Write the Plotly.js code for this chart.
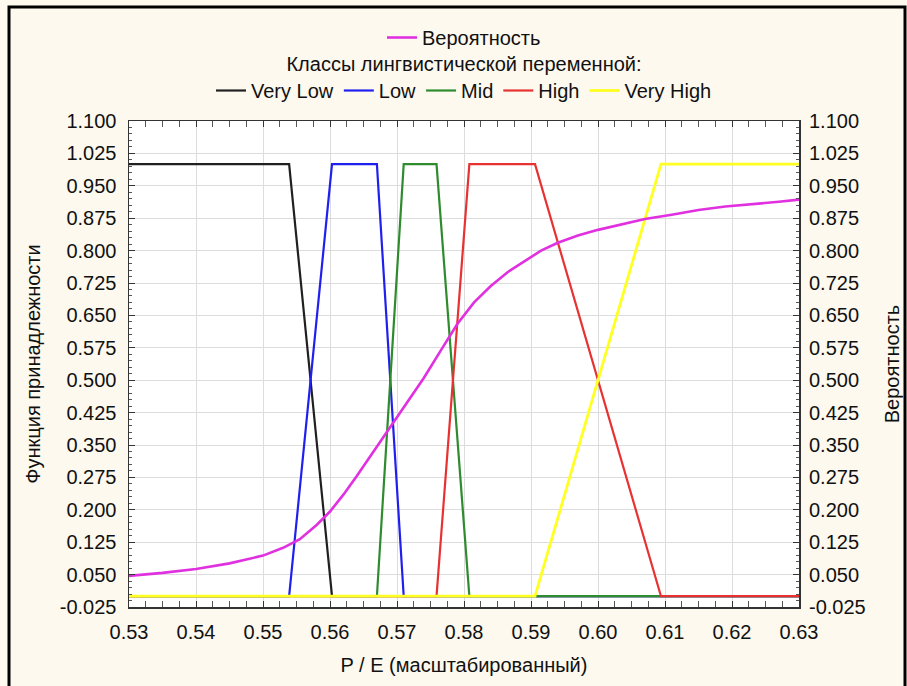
<!DOCTYPE html>
<html>
<head>
<meta charset="utf-8">
<script src="https://cdn.plot.ly/plotly-3.0.1.min.js"></script>
<style>
  html, body { margin: 0; padding: 0; background: #fdf9ef; }
  #chart { width: 907px; height: 686px; }
</style>
</head>
<body>
<div id="chart"></div>
<script>
// Membership functions (trapezoids) of the linguistic variable classes
const xVeryLow = [0.53, 0.5539, 0.5603, 0.63];
const yVeryLow = [1, 1, 0, 0];
const xLow = [0.53, 0.5539, 0.5603, 0.5670, 0.5710, 0.63];
const yLow = [0, 0, 1, 1, 0, 0];
const xMid = [0.53, 0.5670, 0.5710, 0.5759, 0.5808, 0.63];
const yMid = [0, 0, 1, 1, 0, 0];
const xHigh = [0.53, 0.5759, 0.5808, 0.5906, 0.6094, 0.63];
const yHigh = [0, 0, 1, 1, 0, 0];
const xVeryHigh = [0.53, 0.5906, 0.6094, 0.63];
const yVeryHigh = [0, 0, 1, 1];

// Probability curve
const xProb = [0.530, 0.535, 0.540, 0.545, 0.550, 0.553, 0.5555, 0.558, 0.560, 0.562,
               0.564, 0.566, 0.568, 0.570, 0.572, 0.574, 0.5765, 0.579, 0.5815, 0.584,
               0.5865, 0.589, 0.5915, 0.594, 0.597, 0.600, 0.604, 0.607, 0.611, 0.615,
               0.619, 0.623, 0.627, 0.630];
const yProb = [0.047, 0.054, 0.063, 0.076, 0.094, 0.112, 0.132, 0.165, 0.196, 0.235,
               0.278, 0.323, 0.368, 0.413, 0.458, 0.505, 0.568, 0.630, 0.680, 0.718,
               0.750, 0.776, 0.800, 0.818, 0.835, 0.848, 0.862, 0.873, 0.883, 0.894,
               0.902, 0.907, 0.913, 0.918];

const xTickVals = [0.53, 0.54, 0.55, 0.56, 0.57, 0.58, 0.59, 0.60, 0.61, 0.62, 0.63];
const xTickText = ['0.53', '0.54', '0.55', '0.56', '0.57', '0.58', '0.59', '0.60', '0.61', '0.62', '0.63'];
const yTickVals = [-0.025, 0.050, 0.125, 0.200, 0.275, 0.350, 0.425, 0.500, 0.575,
                   0.650, 0.725, 0.800, 0.875, 0.950, 1.025, 1.100];
const yTickText = ['-0.025', '0.050', '0.125', '0.200', '0.275', '0.350', '0.425', '0.500', '0.575',
                   '0.650', '0.725', '0.800', '0.875', '0.950', '1.025', '1.100'];

const FONT = 'Liberation Sans, Arial, sans-serif';
const lw = 2.2;

const traces = [
  {x: xVeryLow, y: yVeryLow, name: 'Very Low', mode: 'lines', line: {color: '#202020', width: lw}, legend: 'legend2'},
  {x: xLow, y: yLow, name: 'Low', mode: 'lines', line: {color: '#2020ee', width: lw}, legend: 'legend2'},
  {x: xMid, y: yMid, name: 'Mid', mode: 'lines', line: {color: '#2e8b2e', width: lw}, legend: 'legend2'},
  {x: xHigh, y: yHigh, name: 'High', mode: 'lines', line: {color: '#e83232', width: lw}, legend: 'legend2'},
  {x: xVeryHigh, y: yVeryHigh, name: 'Very High', mode: 'lines', line: {color: '#ffff22', width: lw + 0.6}, legend: 'legend2'},
  {x: xProb, y: yProb, name: 'Вероятность', mode: 'lines', line: {color: '#e030e0', width: 2.6}, yaxis: 'y2', legend: 'legend'}
];

// plot area in pixels: left 129, right 799, top 121, bottom 607
const L = 129, R = 799, T = 121, B = 607;
const W = R - L, H = B - T;
const px = v => (v - L) / W;
const py = v => (B - v) / H;

const layout = {
  width: 907, height: 686,
  margin: {l: L, r: 907 - R, t: T, b: 686 - B},
  paper_bgcolor: '#fdf9ef',
  plot_bgcolor: '#ffffff',
  font: {family: FONT, size: 20, color: '#111'},
  showlegend: true,
  xaxis: {
    range: [0.53, 0.63],
    tickvals: xTickVals, ticktext: xTickText,
    ticks: 'inside', ticklen: 6, tickcolor: '#333',
    ticklabelstandoff: 6,
    showline: true, linecolor: '#333', linewidth: 1.5, mirror: 'allticks',
    showgrid: true, gridcolor: '#dcdcdc', gridwidth: 1,
    zeroline: false,
    minor: {dtick: 0.0025, tick0: 0.53, ticks: 'inside', ticklen: 3, tickcolor: '#555', showgrid: false},
    tickfont: {size: 20},
    title: {text: 'P / E (масштабированный)', font: {size: 20}, standoff: 16},
    automargin: false
  },
  yaxis: {
    range: [-0.025, 1.1],
    tickvals: yTickVals, ticktext: yTickText,
    ticks: 'inside', ticklen: 6, tickcolor: '#333',
    ticklabelstandoff: 7,
    showline: true, linecolor: '#333', linewidth: 1.5, mirror: true,
    showgrid: true, gridcolor: '#dcdcdc', gridwidth: 1,
    zeroline: false,
    minor: {dtick: 0.015, tick0: -0.025, ticks: 'inside', ticklen: 3, tickcolor: '#555', showgrid: false},
    tickfont: {size: 20},
    title: {text: 'Функция принадлежности', font: {size: 20}, standoff: 14},
    automargin: false
  },
  yaxis2: {
    overlaying: 'y', side: 'right',
    range: [-0.025, 1.1],
    tickvals: yTickVals, ticktext: yTickText,
    ticks: 'inside', ticklen: 6, tickcolor: '#333',
    ticklabelstandoff: 9,
    showgrid: false, zeroline: false,
    minor: {dtick: 0.015, tick0: -0.025, ticks: 'inside', ticklen: 3, tickcolor: '#555', showgrid: false},
    tickfont: {size: 20},
    title: {text: 'Вероятность', font: {size: 20}, standoff: 20},
    automargin: false
  },
  legend: {
    orientation: 'h', x: 0.5, xanchor: 'center', y: py(18), yanchor: 'top',
    bgcolor: 'rgba(0,0,0,0)', font: {size: 20}
  },
  legend2: {
    orientation: 'h', x: 0.5, xanchor: 'center', y: py(45), yanchor: 'top',
    bgcolor: 'rgba(0,0,0,0)', font: {size: 20},
    title: {text: 'Классы лингвистической переменной:', side: 'top center', font: {size: 20}}
  },
  shapes: [
    {type: 'rect', xref: 'paper', yref: 'paper', x0: px(9), x1: px(905), y0: py(700), y1: py(7),
     line: {color: '#000', width: 3}, fillcolor: 'rgba(0,0,0,0)', layer: 'below'}
  ]
};

Plotly.newPlot('chart', traces, layout, {displayModeBar: false, staticPlot: true});
</script>
</body>
</html>
